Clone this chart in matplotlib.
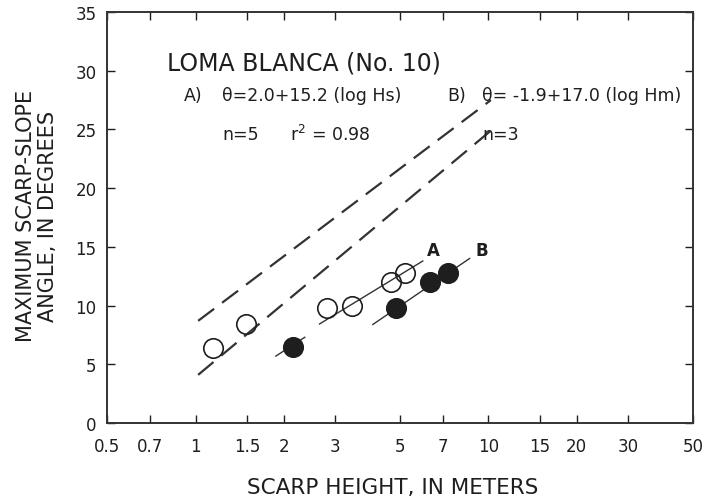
import matplotlib
matplotlib.use("Agg")
import matplotlib.pyplot as plt
import numpy as np

plt.rcParams['font.family'] = ['DejaVu Sans']

# open circles (scarp height Hs) and filled circles (Hm)
open_h = [1.15, 1.49, 2.80, 3.41, 4.64, 5.18]
open_ang = [6.4, 8.4, 9.8, 10.0, 12.0, 12.8]
fill_h = [2.15, 4.82, 6.31, 7.27]
fill_ang = [6.5, 9.8, 12.0, 12.8]

# regression A and B: theta = a + b*log10(H)
fit_a = (2.0, 15.2)
fit_a_range = [2.65, 5.97]
fit_b = (-1.9, 17.0)
fit_b_range = [4.03, 8.63]
# short segment through the small filled point
seg_h = [1.88, 2.36]
seg_ang = [5.7, 7.3]

# dashed envelope lines
dash_h = [1.02, 10.2]
dash_upper = [8.7, 27.5]
dash_lower = [4.1, 24.9]

xticks = [0.5, 0.7, 1, 1.5, 2, 3, 5, 7, 10, 15, 20, 30, 50]
xticklabels = ['0.5', '0.7', '1', '1.5', '2', '3', '5', '7', '10', '15', '20', '30', '50']
yticks = [0, 5, 10, 15, 20, 25, 30, 35]

ink = '#1e1e1e'

fig = plt.figure(figsize=(7.09, 5.02), dpi=100)
ax = fig.add_axes([107.5 / 709, 78 / 502, 585.5 / 709, 411 / 502])

ax.set_xscale('log')
ax.set_xlim(0.5, 50)
ax.set_ylim(0, 35)

# dashed lines
ax.plot(dash_h, dash_upper, color='#333333', lw=1.6, dashes=(9, 4.5))
ax.plot(dash_h, dash_lower, color='#333333', lw=1.6, dashes=(9, 4.5))

# fitted lines
ha = np.logspace(np.log10(fit_a_range[0]), np.log10(fit_a_range[1]), 20)
ax.plot(ha, fit_a[0] + fit_a[1] * np.log10(ha), color='#333333', lw=1.0)
hb = np.logspace(np.log10(fit_b_range[0]), np.log10(fit_b_range[1]), 20)
ax.plot(hb, fit_b[0] + fit_b[1] * np.log10(hb), color='#333333', lw=1.0)
ax.plot(seg_h, seg_ang, color='#333333', lw=1.0)

# points
ax.plot(open_h, open_ang, 'o', ms=14, mfc='none', mec=ink, mew=1.2)
ax.plot(fill_h, fill_ang, 'o', ms=14, mfc=ink, mec=ink, mew=1.2)

ax.text(6.47, 14.7, 'A', fontsize=12, fontweight='bold', color=ink, ha='center', va='center')
ax.text(9.5, 14.7, 'B', fontsize=12, fontweight='bold', color=ink, ha='center', va='center')

# annotation text
fs = 12.5
ax.text(0.1016, 0.878, 'LOMA BLANCA (No. 10)', transform=ax.transAxes, fontsize=17, color=ink, va='center')
ax.text(0.1307, 0.798, 'A)', transform=ax.transAxes, fontsize=fs, color=ink, va='center')
ax.text(0.1956, 0.798, 'θ=2.0+15.2 (log Hs)', transform=ax.transAxes, fontsize=fs, color=ink, va='center')
ax.text(0.5798, 0.798, 'B)', transform=ax.transAxes, fontsize=fs, color=ink, va='center')
ax.text(0.6396, 0.798, 'θ= -1.9+17.0 (log Hm)', transform=ax.transAxes, fontsize=fs, color=ink, va='center')
ax.text(0.1956, 0.703, 'n=5', transform=ax.transAxes, fontsize=fs, color=ink, va='center')
ax.text(0.3117, 0.703, 'r$^2$ = 0.98', transform=ax.transAxes, fontsize=fs, color=ink, va='center')
ax.text(0.6396, 0.703, 'n=3', transform=ax.transAxes, fontsize=fs, color=ink, va='center')

ax.set_xticks(xticks)
ax.set_xticklabels(xticklabels)
ax.xaxis.set_minor_locator(matplotlib.ticker.NullLocator())
ax.set_yticks(yticks)
ax.tick_params(direction='in', length=6, width=1.0, top=True, right=True,
               labelsize=12, colors=ink)
ax.tick_params(axis='x', pad=10)
ax.tick_params(axis='y', pad=8)
for s in ax.spines.values():
    s.set_linewidth(1.4)
    s.set_color('#333333')

fig.text(393 / 709, 1 - 488 / 502, 'SCARP HEIGHT, IN METERS', fontsize=15.5, color=ink, ha='center', va='center')
fig.text(37 / 709, 1 - 216 / 502, 'MAXIMUM SCARP-SLOPE\nANGLE, IN DEGREES', fontsize=15, color=ink,
         ha='center', va='center', rotation=90, linespacing=1.1, multialignment='center')

fig.savefig('out.png', dpi=100)
